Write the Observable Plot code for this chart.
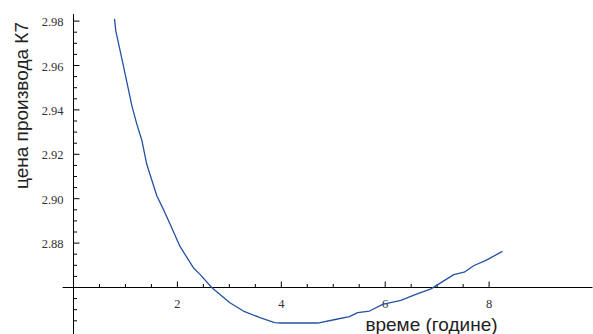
<!DOCTYPE html>
<html><head><meta charset="utf-8">
<script src="https://cdn.jsdelivr.net/npm/d3@7"></script>
<script src="https://cdn.jsdelivr.net/npm/@observablehq/plot@0.6"></script>
<style>
html,body{margin:0;padding:0;background:#fff}
#chart{width:593px;height:334px;overflow:hidden}
</style>
</head><body><div id="chart"></div>
<script>
// Data
const time  = [0.79, 0.815, 0.934, 1.016, 1.125, 1.22, 1.317, 1.41, 1.605, 1.73, 1.86, 2.05, 2.31, 2.44, 2.66, 3.01, 3.27, 3.59, 3.87, 4.0, 4.70, 5.06, 5.31, 5.47, 5.70, 5.95, 6.30, 6.59, 6.88, 7.32, 7.52, 7.71, 7.93, 8.22, 8.25];
const price = [2.9808, 2.9755, 2.9628, 2.9538, 2.9417, 2.9335, 2.9262, 2.9155, 2.9012, 2.8952, 2.8885, 2.8785, 2.8688, 2.8658, 2.86, 2.8531, 2.8494, 2.8464, 2.8442, 2.8440, 2.8440, 2.8457, 2.8469, 2.8487, 2.8494, 2.8524, 2.8542, 2.8569, 2.8594, 2.8658, 2.8669, 2.8699, 2.8721, 2.8758, 2.8762];
const xMajorTicks = [2, 4, 6, 8];
const xMinorTicks = [0.5, 1, 1.5, 2.5, 3, 3.5, 4.5, 5, 5.5, 6.5, 7, 7.5];
const yMajorTicks = [2.88, 2.90, 2.92, 2.94, 2.96, 2.98];
const yMinorTicks = [2.845, 2.85, 2.855, 2.865, 2.87, 2.875, 2.885, 2.89, 2.895, 2.905, 2.91, 2.915, 2.925, 2.93, 2.935, 2.945, 2.95, 2.955, 2.965, 2.97, 2.975];
const xOrigin = 0;
const yOrigin = 2.86;
const xAxisExtent = [-0.2, 10];
const yAxisExtent = [2.838, 2.983];
const xTitle = "време (године)";
const yTitle = "цена производа К7";

const W = 593, H = 334;
const xRange = [73, 592.5], yRange = [287, 20.6];
const xDomain = [0, 10], yDomain = [2.86, 2.98];
// pixel -> data unit helpers for tick lengths
const xPerPx = (xDomain[1] - xDomain[0]) / (xRange[1] - xRange[0]);
const yPerPx = (yDomain[1] - yDomain[0]) / (yRange[0] - yRange[1]);

const rows = time.map((t, i) => ({t, p: price[i]}));
const tickFont = "Liberation Serif";
const titleFont = "Liberation Sans";

const chart = Plot.plot({
  width: W, height: H,
  margin: 0,
  style: {background: "#fff", overflow: "hidden"},
  x: {domain: xDomain, range: xRange, axis: null},
  y: {domain: yDomain, range: yRange, axis: null},
  marks: [
    // axis lines crossing at the origin
    Plot.ruleY([yOrigin], {x1: xAxisExtent[0], x2: xAxisExtent[1], stroke: "#000", strokeWidth: 1}),
    Plot.ruleX([xOrigin], {y1: yAxisExtent[0], y2: yAxisExtent[1], stroke: "#000", strokeWidth: 1}),
    // x ticks (pointing up)
    Plot.ruleX(xMajorTicks, {x: d => d, y1: yOrigin, y2: yOrigin + 5.5 * yPerPx, stroke: "#000"}),
    Plot.ruleX(xMinorTicks, {x: d => d, y1: yOrigin, y2: yOrigin + 3 * yPerPx, stroke: "#000"}),
    // y ticks (pointing right)
    Plot.ruleY(yMajorTicks, {y: d => d, x1: xOrigin, x2: xOrigin + 6.5 * xPerPx, stroke: "#000"}),
    Plot.ruleY(yMinorTicks, {y: d => d, x1: xOrigin, x2: xOrigin + 4 * xPerPx, stroke: "#000"}),
    // tick labels
    Plot.text(xMajorTicks, {x: d => d, y: () => yOrigin, dy: 20, lineAnchor: "bottom", text: d => String(d),
      fontFamily: tickFont, fontSize: 12.5, fill: "#333"}),
    Plot.text(yMajorTicks, {x: () => xOrigin, y: d => d, dx: -10, dy: 1, textAnchor: "end", text: d => d.toFixed(2),
      fontFamily: tickFont, fontSize: 12.5, fill: "#333"}),
    // the curve
    Plot.line(rows, {x: "t", y: "p", stroke: "#2352a3", strokeWidth: 1.3}),
    // axis titles
    Plot.text([xTitle], {frameAnchor: "bottom-right", dx: -162, dy: -4, textAnchor: "middle", lineAnchor: "bottom",
      text: d => d, fontFamily: titleFont, fontSize: 19, fill: "#222"}),
    Plot.text([yTitle], {frameAnchor: "top-left", dx: 27.5, dy: 105, rotate: -90, textAnchor: "middle", lineAnchor: "bottom",
      text: d => d, fontFamily: titleFont, fontSize: 19, fill: "#222"})
  ]
});
document.getElementById("chart").append(chart);
</script>
</body></html>
